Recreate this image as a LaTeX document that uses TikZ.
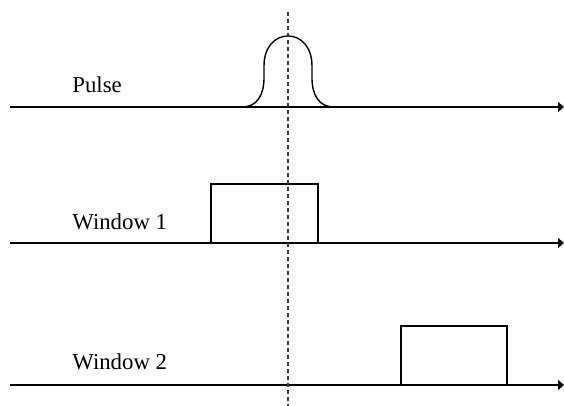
\documentclass[tikz,border=0pt]{standalone}
\usepackage{fontspec}
\setmainfont{Liberation Serif}
\usetikzlibrary{arrows.meta}
\definecolor{inkc}{HTML}{000000}
\definecolor{markgrey}{HTML}{3A3A3A}

\begin{document}
\begin{tikzpicture}[x=0.5pt, y=0.5pt,
        axis/.style={-{Triangle[length=3pt, width=5pt]}, line width=0.75pt, draw=inkc},
        win/.style={draw=inkc, line width=0.55pt},
        pulse/.style={draw=inkc, line width=0.7pt},
        marker/.style={draw=markgrey, line width=0.55pt, dash pattern=on 2.2pt off 1.3pt},
        lbl/.style={anchor=base west, inner sep=0pt, font=\fontsize{11.4}{13}\selectfont, text=inkc}]
      \useasboundingbox (0,0) rectangle (564,406);
      % time axes, one per trace
      \foreach \y/\name/\txt/\b in {299/P/Pulse/313, 163/WA/Window 1/176, 21/WB/Window 2/36}{
        \coordinate (\name start) at (10,\y);
        \coordinate (\name end) at (564,\y);
        \draw[axis] (\name start) -- (\name end);
        \node[lbl] (\name lbl) at (72,\b) {\txt};
      }
      % pulse shape
      \draw[pulse] (242,299) .. controls (257,299) and (264,311) .. (264,328) -- (264,340)
        .. controls (264,359) and (275,370) .. (288,370)
        .. controls (301,370) and (312,359) .. (312,340) -- (312,328)
        .. controls (312,311) and (319,299) .. (334,299);
      % gate windows
      \draw[win] (211,163) |- (318,222) -- (318,163);
      \draw[win] (401,21) |- (507,80) -- (507,21);
      % pulse centre
      \coordinate (mtop) at (288,394);
      \coordinate (mbot) at (288,0);
      \draw[marker] (mtop) -- (mbot);
    \end{tikzpicture}
\end{document}
